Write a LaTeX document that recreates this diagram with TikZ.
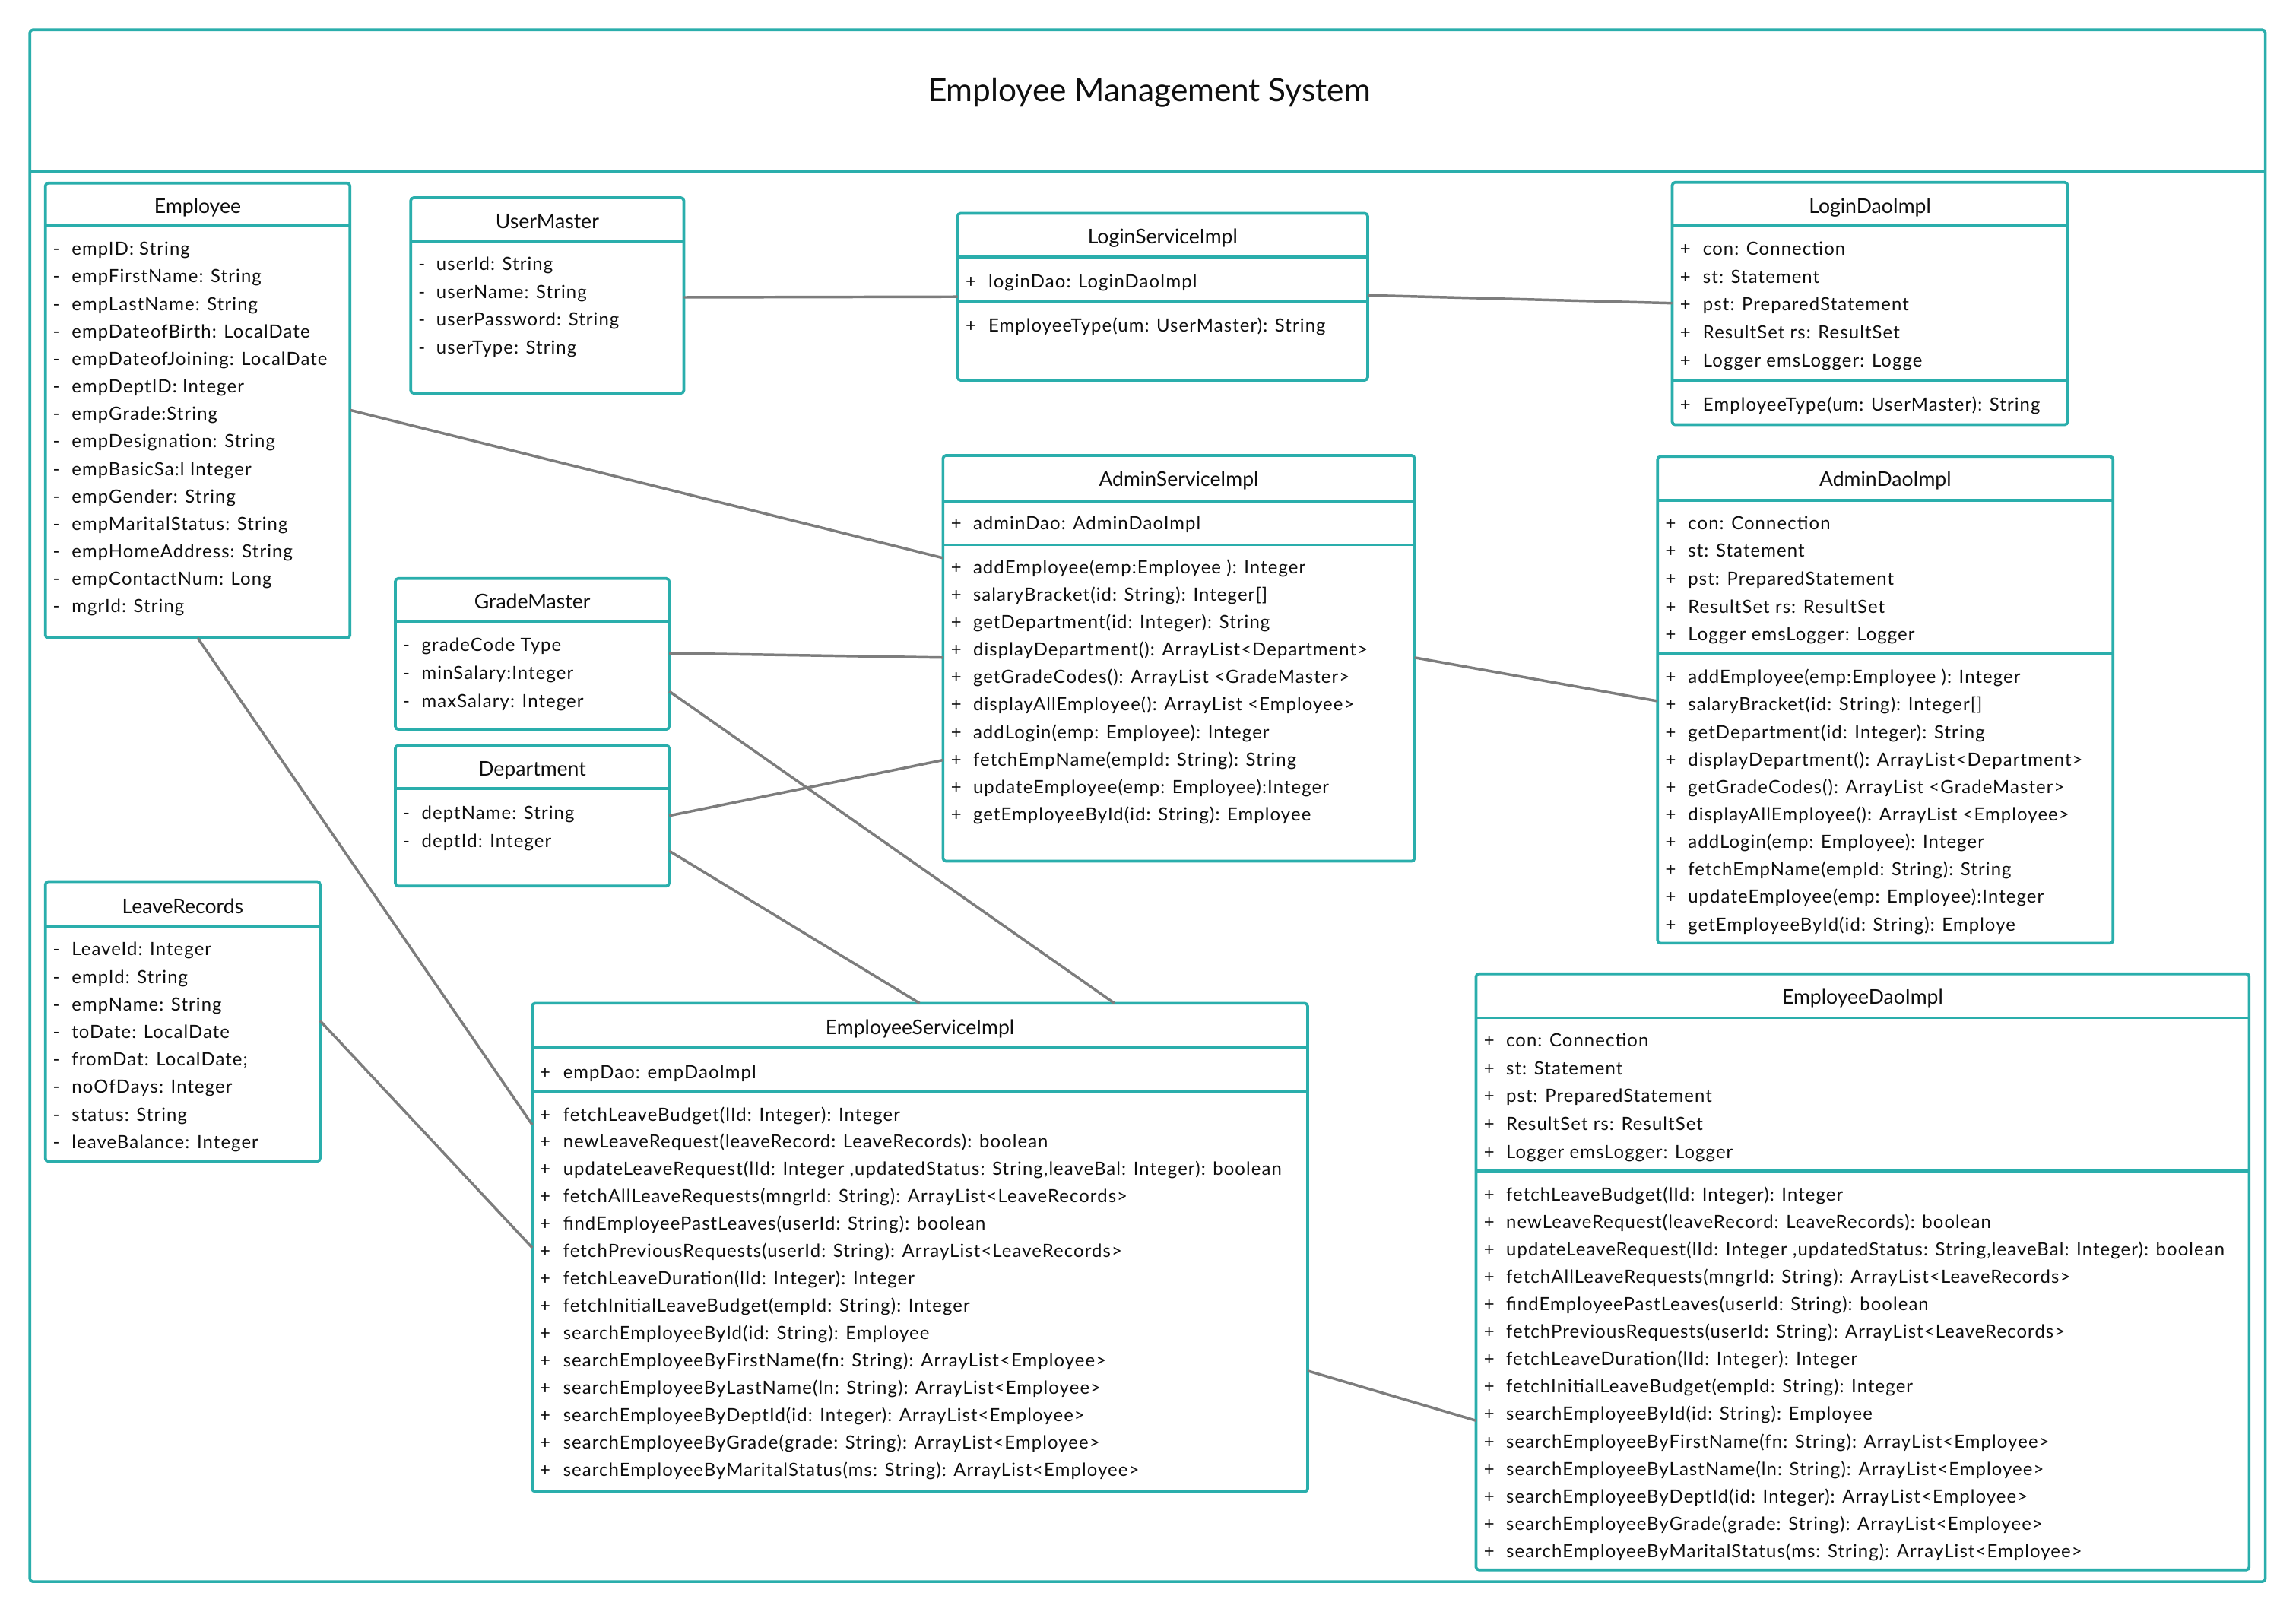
\documentclass[tikz,border=0pt]{standalone}
\usepackage{fontspec}
\setmainfont{Lato}
\newfontfamily\itmfont[LetterSpace=4.6]{Lato}
\definecolor{tealb}{RGB}{42,174,172}
\definecolor{connc}{RGB}{125,125,125}
\definecolor{txt}{RGB}{15,15,15}
\tikzset{
  box/.style={draw=tealb, line width=1.9pt, rounded corners=2pt, fill=white, outer sep=0pt, inner sep=0pt, anchor=north west},
  sepline/.style={draw=tealb, line width=1.9pt},
  conn/.style={draw=connc, line width=1.8pt},
  itm/.style={inner sep=0pt, outer sep=0pt, text=txt, font=\itmfont\fontsize{12.4}{15}\selectfont},
  ttl/.style={itm, font=\fontsize{13.8}{16}\selectfont, anchor=base},
}
% name, x, y, w, h, title baseline, title
\newcommand\cls[7]{%
  \node[box, minimum width=#4pt, minimum height=#5pt] (#1) at (#2,#3) {};
  \node[ttl] (#1-t) at ({#2+#4/2},#6) {#7};}
% box, offset from top
\newcommand\hsep[2]{\draw[sepline] ([yshift=-#2pt]#1.north west) -- ([yshift=-#2pt]#1.north east);}
% prefix, marker x, text x, y0, dy, marker, list
\newcommand\items[7]{%
  \foreach \t [count=\i from 0] in {#7} {
    \node[itm, anchor=base] (#1-m\i) at (#2, {#4+\i*#5}) {#6};
    \node[itm, anchor=base west] (#1-i\i) at (#3, {#4+\i*#5}) {\t};
  }}
\begin{document}
\begin{tikzpicture}[x=1pt, y=-1pt]
\useasboundingbox (0,0) rectangle (1568,1100.7);
\fill[white] (0,0) rectangle (1568,1100.7);
% frame
\node[box, minimum width=1526.6pt, minimum height=1059.6pt] (frame) at (20.4,20.4) {};
\hsep{frame}{96.6}
\node[inner sep=0pt, text=txt, anchor=base, font=\fontsize{22}{26}\selectfont] (title) at (785,69.1) {Employee Management System};

% Employee
\cls{emp}{31}{125}{208}{310.6}{145.6}{Employee}
\hsep{emp}{29}
\items{empa}{38.5}{49}{174.3}{18.78}{-}{empID: String, empFirstName: String, empLastName: String, empDateofBirth: LocalDate, empDateofJoining: LocalDate, empDeptID: Integer, empGrade:String, empDesignation: String, empBasicSa:l Integer, empGender: String, empMaritalStatus: String, empHomeAddress: String, empContactNum: Long, mgrId: String}

% UserMaster
\cls{um}{280.5}{135}{186.5}{133.5}{155.8}{UserMaster}
\hsep{um}{29.6}
\items{uma}{288}{298}{184.7}{19.0}{-}{userId: String, userName: String, userPassword: String, userType: String}

% LoginServiceImpl
\cls{lsi}{654}{145.6}{280}{114}{166.4}{LoginServiceImpl}
\hsep{lsi}{29.9}
\hsep{lsi}{60}
\items{lsia}{663}{675}{196.6}{19}{+}{loginDao: LoginDaoImpl}
\items{lsim}{663}{675}{226.7}{19}{+}{EmployeeType(um: UserMaster): String}

% LoginDaoImpl
\cls{ldi}{1142}{124.5}{270}{165.5}{145.6}{LoginDaoImpl}
\hsep{ldi}{29.5}
\hsep{ldi}{135.1}
\items{ldia}{1151}{1163}{174.3}{19.0}{+}{con: Connection, st: Statement, pst: PreparedStatement, ResultSet rs: ResultSet, Logger emsLogger: Logge}
\items{ldim}{1151}{1163}{280.4}{19}{+}{EmployeeType(um: UserMaster): String}

% AdminServiceImpl
\cls{asi}{644}{311}{322}{277}{332}{AdminServiceImpl}
\hsep{asi}{31}
\hsep{asi}{61}
\items{asia}{653}{664.6}{361.7}{19}{+}{adminDao: AdminDaoImpl}
\items{asim}{653}{664.6}{391.6}{18.76}{+}{addEmployee(emp:Employee ): Integer, salaryBracket(id: String): Integer[], getDepartment(id: Integer): String, displayDepartment(): ArrayList<Department>, getGradeCodes(): ArrayList <GradeMaster>, displayAllEmployee(): ArrayList <Employee>, addLogin(emp: Employee): Integer, fetchEmpName(empId: String): String, updateEmployee(emp: Employee):Integer, getEmployeeById(id: String): Employee}

% AdminDaoImpl
\cls{adi}{1132}{311.7}{311}{332.3}{332.2}{AdminDaoImpl}
\hsep{adi}{30}
\hsep{adi}{134.8}
\items{adia}{1141}{1152.8}{361.5}{19.0}{+}{con: Connection, st: Statement, pst: PreparedStatement, ResultSet rs: ResultSet, Logger emsLogger: Logger}
\items{adim}{1141}{1152.8}{466.6}{18.77}{+}{addEmployee(emp:Employee ): Integer, salaryBracket(id: String): Integer[], getDepartment(id: Integer): String, displayDepartment(): ArrayList<Department>, getGradeCodes(): ArrayList <GradeMaster>, displayAllEmployee(): ArrayList <Employee>, addLogin(emp: Employee): Integer, fetchEmpName(empId: String): String, updateEmployee(emp: Employee):Integer, getEmployeeById(id: String): Employe}

% GradeMaster
\cls{gm}{270}{395}{187}{103}{415.6}{GradeMaster}
\hsep{gm}{29.5}
\items{gma}{277.5}{288}{444.6}{19.35}{-}{gradeCode Type, minSalary:Integer, maxSalary: Integer}

% Department
\cls{dep}{270}{509}{187}{96}{529.8}{Department}
\hsep{dep}{29.5}
\items{depa}{277.5}{288}{559.3}{19.4}{-}{deptName: String, deptId: Integer}

% LeaveRecords
\cls{lr}{31}{602}{187.6}{191}{623.6}{LeaveRecords}
\hsep{lr}{30.5}
\items{lra}{38.5}{49}{652.6}{18.8}{-}{LeaveId: Integer, empId: String, empName: String, toDate: LocalDate, fromDat: LocalDate;, noOfDays: Integer, status: String, leaveBalance: Integer}

% EmployeeServiceImpl
\cls{esi}{363.5}{685}{529.5}{333.5}{706.3}{EmployeeServiceImpl}
\hsep{esi}{30.5}
\hsep{esi}{60}
\items{esia}{372.3}{384.6}{736.4}{19}{+}{empDao: empDaoImpl}
\items{esim}{372.3}{384.6}{765.3}{18.67}{+}{fetchLeaveBudget(lId: Integer): Integer, newLeaveRequest(leaveRecord: LeaveRecords): boolean, {updateLeaveRequest(lId: Integer ,updatedStatus: String,leaveBal: Integer): boolean}, fetchAllLeaveRequests(mngrId: String): ArrayList<LeaveRecords>, findEmployeePastLeaves(userId: String): boolean, fetchPreviousRequests(userId: String): ArrayList<LeaveRecords>, fetchLeaveDuration(lId: Integer): Integer, fetchInitialLeaveBudget(empId: String): Integer, searchEmployeeById(id: String): Employee, searchEmployeeByFirstName(fn: String): ArrayList<Employee>, searchEmployeeByLastName(ln: String): ArrayList<Employee>, searchEmployeeByDeptId(id: Integer): ArrayList<Employee>, searchEmployeeByGrade(grade: String): ArrayList<Employee>, searchEmployeeByMaritalStatus(ms: String): ArrayList<Employee>}

% EmployeeDaoImpl
\cls{edi}{1008}{665}{528}{407}{685.5}{EmployeeDaoImpl}
\hsep{edi}{30}
\hsep{edi}{134.6}
\items{edia}{1017}{1028.6}{714.6}{19.07}{+}{con: Connection, st: Statement, pst: PreparedStatement, ResultSet rs: ResultSet, Logger emsLogger: Logger}
\items{edim}{1017}{1028.6}{820}{18.73}{+}{fetchLeaveBudget(lId: Integer): Integer, newLeaveRequest(leaveRecord: LeaveRecords): boolean, {updateLeaveRequest(lId: Integer ,updatedStatus: String,leaveBal: Integer): boolean}, fetchAllLeaveRequests(mngrId: String): ArrayList<LeaveRecords>, findEmployeePastLeaves(userId: String): boolean, fetchPreviousRequests(userId: String): ArrayList<LeaveRecords>, fetchLeaveDuration(lId: Integer): Integer, fetchInitialLeaveBudget(empId: String): Integer, searchEmployeeById(id: String): Employee, searchEmployeeByFirstName(fn: String): ArrayList<Employee>, searchEmployeeByLastName(ln: String): ArrayList<Employee>, searchEmployeeByDeptId(id: Integer): ArrayList<Employee>, searchEmployeeByGrade(grade: String): ArrayList<Employee>, searchEmployeeByMaritalStatus(ms: String): ArrayList<Employee>}

% connectors
\draw[conn] ([yshift=-68pt]um.north east) -- ([yshift=-57pt]lsi.north west);
\draw[conn] ([yshift=-56pt]lsi.north east) -- ([yshift=-82.5pt]ldi.north west);
\draw[conn] ([yshift=-155pt]emp.north east) -- ([yshift=-70pt]asi.north west);
\draw[conn] ([yshift=-51pt]gm.north east) -- ([yshift=-138pt]asi.north west);
\draw[conn] ([yshift=-48pt]dep.north east) -- ([yshift=-208pt]asi.north west);
\draw[conn] ([yshift=-138pt]asi.north east) -- ([yshift=-167pt]adi.north west);
\draw[conn] ([yshift=-77pt]gm.north east) -- ([xshift=397.5pt]esi.north west);
\draw[conn] ([yshift=-72pt]dep.north east) -- ([xshift=264.5pt]esi.north west);
\draw[conn] ([xshift=104pt]emp.south west) -- ([yshift=-83pt]esi.north west);
\draw[conn] ([yshift=-95pt]lr.north east) -- ([yshift=-167pt]esi.north west);
\draw[conn] ([yshift=-251pt]esi.north east) -- ([yshift=-305pt]edi.north west);
\end{tikzpicture}
\end{document}
